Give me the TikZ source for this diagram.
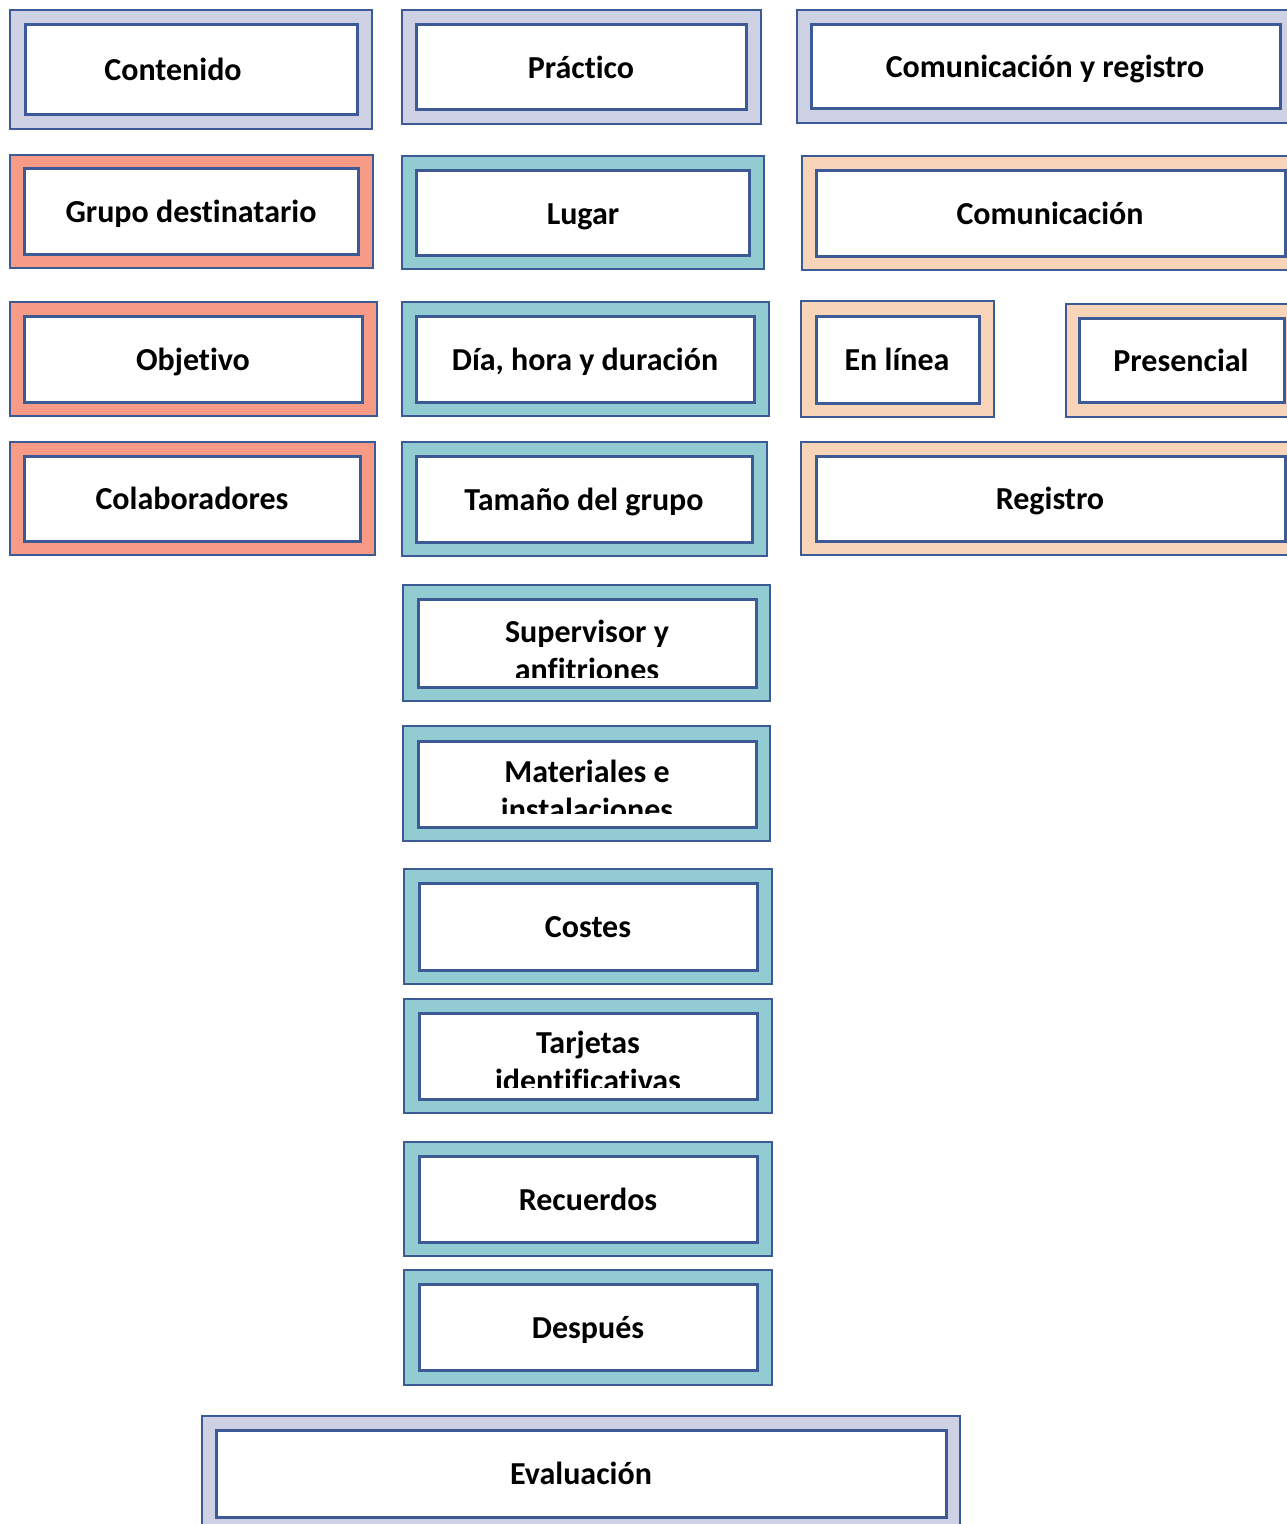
\documentclass[tikz,border=0pt]{standalone}
\usepackage{fontspec}
\setmainfont{Carlito}[Ligatures={NoCommon,NoContextual}]
\usetikzlibrary{fit}
\definecolor{bord}{RGB}{59,90,150}
\definecolor{lav}{RGB}{205,209,227}
\definecolor{salm}{RGB}{247,155,135}
\definecolor{teal}{RGB}{146,203,209}
\definecolor{peach}{RGB}{248,212,185}
\tikzset{
  outerbox/.style={draw=bord, line width=2pt, inner sep=0pt, rectangle},
  innerbox/.style={draw=bord, line width=3pt, fill=white, inner sep=0pt, rectangle},
  lbl/.style={font=\fontsize{32}{38}\selectfont\bfseries, anchor=base, inner sep=0pt, text=black},
}
\begin{document}
\begin{tikzpicture}[x=1pt,y=-1pt]
\clip (0,0) rectangle (1287,1524);
\fill[white] (0,0) rectangle (1287,1524);
% Row 1
\node[outerbox, fill=lav, fit={(10,10)(372,129)}] (contO) {};
\node[innerbox, fit={(25,24)(357,114)}] (contI) {};
\node[lbl] (contT) at (173,80) {Contenido};
\node[outerbox, fill=lav, fit={(402,10)(761,124)}] (pracO) {};
\node[innerbox, fit={(416,24)(746,109)}] (pracI) {};
\node[lbl] (pracT) at (581,78) {Práctico};
\node[outerbox, fill=lav, fit={(797,10)(1300,123)}] (cyrO) {};
\node[innerbox, fit={(811,24)(1280,108)}] (cyrI) {};
\node[lbl] (cyrT) at (1045,77) {Comunicación y registro};
% Row 2
\node[outerbox, fill=salm, fit={(10,155)(373,268)}] (grupO) {};
\node[innerbox, fit={(24,168)(358,254)}] (grupI) {};
\node[lbl] (grupT) at (191,222) {Grupo destinatario};
\node[outerbox, fill=teal, fit={(402,156)(764,269)}] (lugO) {};
\node[innerbox, fit={(416,170)(749,255)}] (lugI) {};
\node[lbl] (lugT) at (583,224) {Lugar};
\node[outerbox, fill=peach, fit={(802,156)(1300,270)}] (comO) {};
\node[innerbox, fit={(816,170)(1285,256)}] (comI) {};
\node[lbl] (comT) at (1050,224) {Comunicación};
% Row 3
\node[outerbox, fill=salm, fit={(10,302)(377,416)}] (objO) {};
\node[innerbox, fit={(24,316)(362,402)}] (objI) {};
\node[lbl] (objT) at (193,370) {Objetivo};
\node[outerbox, fill=teal, fit={(402,302)(769,416)}] (diaO) {};
\node[innerbox, fit={(416,316)(754,402)}] (diaI) {};
\node[lbl] (diaT) at (585,370) {Día, hora y duración};
\node[outerbox, fill=peach, fit={(801,301)(994,417)}] (linO) {};
\node[innerbox, fit={(816,316)(979,403)}] (linI) {};
\node[lbl] (linT) at (897,370) {En línea};
\node[outerbox, fill=peach, fit={(1066,304)(1300,417)}] (preO) {};
\node[innerbox, fit={(1079,318)(1284,402)}] (preI) {};
\node[lbl] (preT) at (1181,371) {Presencial};
% Row 4
\node[outerbox, fill=salm, fit={(10,442)(375,555)}] (colO) {};
\node[innerbox, fit={(24,456)(360,541)}] (colI) {};
\node[lbl] (colT) at (192,509) {Colaboradores};
\node[outerbox, fill=teal, fit={(402,442)(767,556)}] (tamO) {};
\node[innerbox, fit={(416,456)(752,542)}] (tamI) {};
\node[lbl] (tamT) at (584,510) {Tamaño del grupo};
\node[outerbox, fill=peach, fit={(801,442)(1300,555)}] (regO) {};
\node[innerbox, fit={(816,456)(1285,541)}] (regI) {};
\node[lbl] (regT) at (1050,509) {Registro};
% Middle column
\node[outerbox, fill=teal, fit={(403,585)(770,701)}] (supO) {};
\node[innerbox, fit={(418,599)(756,687)}] (supI) {};
\begin{scope}
\clip (418,599) rectangle (756,677);
\node[lbl] (supT1) at (587,642) {Supervisor y};
\node[lbl] (supT2) at (587,680) {anfitriones};
\end{scope}
\node[outerbox, fill=teal, fit={(403,726)(770,841)}] (matO) {};
\node[innerbox, fit={(418,741)(756,827)}] (matI) {};
\begin{scope}
\clip (418,741) rectangle (756,813);
\node[lbl] (matT1) at (587,782) {Materiales e};
\node[lbl] (matT2) at (587,820) {instalaciones};
\end{scope}
\node[outerbox, fill=teal, fit={(404,869)(772,984)}] (cosO) {};
\node[innerbox, fit={(419,883)(757,970)}] (cosI) {};
\node[lbl] (cosT) at (588,937) {Costes};
\node[outerbox, fill=teal, fit={(404,999)(772,1113)}] (tarO) {};
\node[innerbox, fit={(419,1013)(757,1099)}] (tarI) {};
\begin{scope}
\clip (419,1013) rectangle (757,1087);
\node[lbl] (tarT1) at (588,1053) {Tarjetas};
\node[lbl] (tarT2) at (588,1091) {identificativas};
\end{scope}
\node[outerbox, fill=teal, fit={(404,1142)(772,1256)}] (recO) {};
\node[innerbox, fit={(419,1156)(757,1242)}] (recI) {};
\node[lbl] (recT) at (588,1210) {Recuerdos};
\node[outerbox, fill=teal, fit={(404,1270)(772,1385)}] (despO) {};
\node[innerbox, fit={(419,1284)(757,1370)}] (despI) {};
\node[lbl] (despT) at (588,1338) {Después};
% Bottom
\node[outerbox, fill=lav, fit={(202,1416)(960,1540)}] (evaO) {};
\node[innerbox, fit={(216,1430)(946,1517)}] (evaI) {};
\node[lbl] (evaT) at (581,1484) {Evaluación};
\end{tikzpicture}
\end{document}
